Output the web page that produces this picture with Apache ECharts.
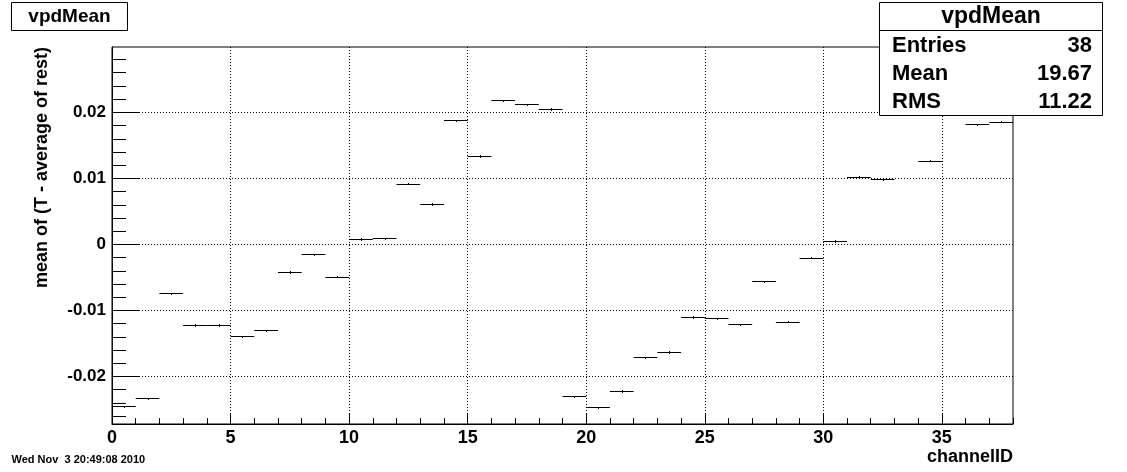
<!DOCTYPE html>
<html><head><meta charset="utf-8">
<script src="https://cdn.jsdelivr.net/npm/echarts@6/dist/echarts.min.js"></script>
<style>html,body{margin:0;padding:0;background:#fff}#c{width:1127px;height:472px}</style>
</head><body><div id="c"></div>
<script>
// bin low edges (channelID)
const channels = [0,1,2,3,4,5,6,7,8,9,10,11,12,13,14,15,16,17,18,19,20,21,22,23,24,25,26,27,28,29,30,31,32,33,34,35,36,37];
// mean of (T - average of rest) per channel (bins 33 and 35 lie hidden behind the stats box)
const values = [-0.0245,-0.0233,-0.0074,-0.0122,-0.0122,-0.0139,-0.0130,-0.0042,-0.0015,-0.0049,
                0.0008,0.0009,0.0092,0.0061,0.0188,0.0134,0.0218,0.0212,0.0205,-0.0230,
                -0.0247,-0.0222,-0.0171,-0.0163,-0.0110,-0.0112,-0.0121,-0.0056,-0.0117,-0.0020,
                0.0005,0.0102,0.0099,0.0240,0.0127,0.0250,0.0182,0.0186];
const errors = [0.0001,0.0001,0.0001,0.0001,0.0001,0.0001,0.0001,0.0001,0.0001,0.0001,
                0.0001,0.0001,0.0001,0.0001,0.0001,0.0001,0.0001,0.0001,0.0001,0.0001,
                0.0001,0.0001,0.0001,0.0001,0.0001,0.0001,0.0001,0.0001,0.0001,0.0001,
                0.0001,0.0001,0.0001,0.0001,0.0001,0.0001,0.0001,0.0001];
const xMajorTicks = [0,5,10,15,20,25,30,35];
const xTickLabels = ['0','5','10','15','20','25','30','35'];
const yMajorTicks = [-0.02,-0.01,0,0.01,0.02];
const yTickLabels = ['-0.02','-0.01','0','0.01','0.02'];
const statNames = ['Entries','Mean','RMS'];
const statValues = ['38','19.67','11.22'];
const histTitle = 'vpdMean';
const xTitle = 'channelID';
const yTitle = 'mean of (T - average of rest)';
const dateText = 'Wed Nov  3 20:49:08 2010';

const XMIN = 0, XMAX = 38, YMIN = -0.0272, YMAX = 0.0299;
const xMinorTicks = []; for (let i = XMIN; i <= XMAX; i++) xMinorTicks.push(i);
const yMinorTicks = []; for (let k = -13; k <= 14; k++) yMinorTicks.push(Math.round(k * 2) / 1000);

const FONT = 'Liberation Sans';
const lab = (arr, labels, v) => { const i = arr.findIndex(t => Math.abs(t - v) < 1e-9); return i >= 0 ? labels[i] : ''; };

const chart = echarts.init(document.getElementById('c'), null, {renderer: 'canvas'});
const gridCfg = {left: 112, right: 114, top: 47, bottom: 48, show: true, borderColor: '#000', borderWidth: 1, backgroundColor: 'rgba(0,0,0,0)', containLabel: false, outerBoundsMode: 'none'};

const option = {
  animation: false,
  backgroundColor: '#fff',
  grid: gridCfg,
  xAxis: [{
    type: 'value', min: XMIN, max: XMAX, position: 'bottom',
    axisLine: {show: true, onZero: false, lineStyle: {color: '#000', width: 1}},
    axisTick: {show: true, inside: true, length: 11, customValues: xMajorTicks, lineStyle: {color: '#000', width: 1}},
    axisLabel: {show: true, customValues: xMajorTicks, margin: 5, color: '#000', fontFamily: FONT, fontWeight: 'bold', fontSize: 18,
      formatter: v => lab(xMajorTicks, xTickLabels, v)},
    splitLine: {show: true, lineStyle: {color: '#000', width: 1, type: [1, 2]}},
    minorTick: {show: false}
  }, {
    type: 'value', min: XMIN, max: XMAX, position: 'bottom',
    axisLine: {show: false, onZero: false},
    axisTick: {show: true, inside: true, length: 6, customValues: xMinorTicks, lineStyle: {color: '#000', width: 1}},
    axisLabel: {show: false}, splitLine: {show: false}
  }],
  yAxis: [{
    type: 'value', min: YMIN, max: YMAX, position: 'left',
    axisLine: {show: true, onZero: false, lineStyle: {color: '#000', width: 1}},
    axisTick: {show: true, inside: true, length: 27, customValues: yMajorTicks, lineStyle: {color: '#000', width: 1}},
    axisLabel: {show: true, customValues: yMajorTicks, margin: 6, color: '#000', fontFamily: FONT, fontWeight: 'bold', fontSize: 17,
      formatter: v => lab(yMajorTicks, yTickLabels, v)},
    splitLine: {show: true, lineStyle: {color: '#000', width: 1, type: [1, 2]}}
  }, {
    type: 'value', min: YMIN, max: YMAX, position: 'left',
    axisLine: {show: false, onZero: false},
    axisTick: {show: true, inside: true, length: 14, customValues: yMinorTicks, lineStyle: {color: '#000', width: 1}},
    axisLabel: {show: false}, splitLine: {show: false}
  }],
  series: [{
    type: 'custom',
    xAxisIndex: 0, yAxisIndex: 0,
    clip: true,
    data: channels.map((c, i) => [c, values[i], errors[i]]),
    encode: {x: 0, y: 1},
    renderItem: function (params, api) {
      const x0 = api.value(0), v = api.value(1), e = api.value(2);
      const pL = api.coord([x0, v]);
      const pR = api.coord([x0 + 1, v]);
      const pT = api.coord([x0 + 0.5, v + e]);
      const pB = api.coord([x0 + 0.5, v - e]);
      const y = Math.round(pL[1]) + 0.5;
      const cx = Math.round(pT[0]) + 0.5;
      return {type: 'group', children: [
        {type: 'line', shape: {x1: pL[0], y1: y, x2: pR[0], y2: y}, style: {stroke: '#000', lineWidth: 1}},
        {type: 'line', shape: {x1: cx, y1: Math.round(pT[1]), x2: cx, y2: Math.round(pB[1]) + 1}, style: {stroke: '#000', lineWidth: 1}}
      ]};
    },
    z: 5
  }],
  graphic: [
    // top-left title box
    {type: 'rect', z: 100, shape: {x: 11.5, y: 2.5, width: 116, height: 28}, style: {fill: '#fff', stroke: '#000', lineWidth: 1}},
    {type: 'text', z: 101, x: 69.5, y: 17, style: {text: histTitle, font: 'bold 19px "Liberation Sans"', fill: '#000', textAlign: 'center', textVerticalAlign: 'middle'}},
    // stats box
    {type: 'rect', z: 100, shape: {x: 879.5, y: 2.5, width: 223, height: 113}, style: {fill: '#fff', stroke: '#000', lineWidth: 1}},
    {type: 'line', z: 101, shape: {x1: 879.5, y1: 30.5, x2: 1102.5, y2: 30.5}, style: {stroke: '#000', lineWidth: 1}},
    {type: 'text', z: 101, x: 991, y: 16.5, style: {text: histTitle, font: 'bold 23px "Liberation Sans"', fill: '#000', textAlign: 'center', textVerticalAlign: 'middle'}},
    ...statNames.map((n, i) => ({type: 'text', z: 101, x: 892, y: 45.5 + i * 28.2, style: {text: n, font: 'bold 22px "Liberation Sans"', fill: '#000', textAlign: 'left', textVerticalAlign: 'middle'}})),
    ...statValues.map((n, i) => ({type: 'text', z: 101, x: 1092, y: 45.5 + i * 28.2, style: {text: n, font: 'bold 22px "Liberation Sans"', fill: '#000', textAlign: 'right', textVerticalAlign: 'middle'}})),
    // axis titles
    {type: 'text', z: 101, x: 1013, y: 457, style: {text: xTitle, font: 'bold 18px "Liberation Sans"', fill: '#000', textAlign: 'right', textVerticalAlign: 'middle'}},
    {type: 'text', z: 101, x: 42, y: 47, rotation: Math.PI / 2, style: {text: yTitle, font: 'bold 18px "Liberation Sans"', fill: '#000', textAlign: 'right', textVerticalAlign: 'middle'}},
    // date stamp
    {type: 'text', z: 101, x: 11.5, y: 459.5, style: {text: dateText, font: 'bold 11px "Liberation Sans"', fill: '#000', textAlign: 'left', textVerticalAlign: 'middle'}}
  ]
};
chart.setOption(option);
</script>
</body></html>
